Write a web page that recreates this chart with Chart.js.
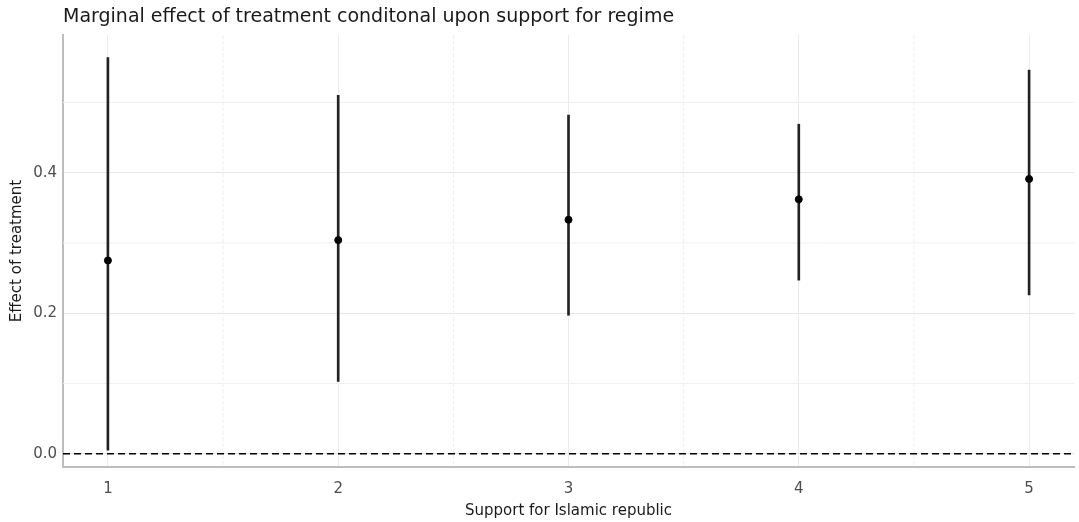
<!DOCTYPE html>
<html>
<head>
<meta charset="utf-8">
<script src="https://cdn.jsdelivr.net/npm/chart.js@4/dist/chart.umd.min.js"></script>
<style>
  html, body { margin: 0; padding: 0; background: #fff; }
  #wrap { width: 1079px; height: 522px; }
</style>
</head>
<body>
<div id="wrap"><canvas id="myChart"></canvas></div>
<script>
// support levels and estimated marginal effects
const support = [1, 2, 3, 4, 5];
const effect = [0.275, 0.304, 0.333, 0.362, 0.391];
const lower = [0.005, 0.103, 0.197, 0.247, 0.226];
const upper = [0.564, 0.510, 0.482, 0.469, 0.546];
const yTicks = [0, 0.2, 0.4];

const titleText = "Marginal effect of treatment conditonal upon support for regime";
const fontFamily = "'DejaVu Sans', sans-serif";

// draws the title above the panel, lined up with the plot's left edge
const titlePlugin = {
	id: "leftTitle",
	afterDraw(chart) {
		const ctx = chart.ctx;
		ctx.save();
		ctx.font = "19px " + fontFamily;
		ctx.fillStyle = "#1a1a1a";
		ctx.textBaseline = "alphabetic";
		ctx.fillText(titleText, chart.chartArea.left, 22);
		ctx.restore();
	}
};

// minor grid lines half way between the major ones, like ggplot
const minorGrid = {
	id: "minorGrid",
	beforeDatasetsDraw(chart) {
		const { ctx, chartArea, scales } = chart;
		ctx.save();
		ctx.strokeStyle = "#efefef";
		ctx.lineWidth = 1;
		for (let i = 0; i < yTicks.length; i++) {
			const py = scales.y.getPixelForValue(yTicks[i] + 0.1);
			ctx.beginPath();
			ctx.moveTo(chartArea.left, py);
			ctx.lineTo(chartArea.right, py);
			ctx.stroke();
		}
		ctx.setLineDash([4, 2]);
		for (let i = 0; i < support.length - 1; i++) {
			const px = scales.x.getPixelForValue(support[i] + 0.5);
			ctx.beginPath();
			ctx.moveTo(px, chartArea.top);
			ctx.lineTo(px, chartArea.bottom);
			ctx.stroke();
		}
		ctx.restore();
	}
};

const xMin = 0.805, xMax = 5.195;

new Chart("myChart", {
	data: {
		datasets: [
			{
				type: "line",
				data: [{ x: xMin, y: 0 }, { x: xMax, y: 0 }],
				borderColor: "#000",
				borderWidth: 1.5,
				borderDash: [7, 4],
				pointRadius: 0,
				order: 3
			},
			{
				type: "bar",
				data: support.map((s, i) => ({ x: s, y: [lower[i], upper[i]] })),
				backgroundColor: "#222",
				borderWidth: 0,
				barThickness: 2,
				grouped: false,
				order: 2
			},
			{
				type: "scatter",
				data: support.map((s, i) => ({ x: s, y: effect[i] })),
				backgroundColor: "#000",
				borderColor: "#000",
				pointRadius: 3.5,
				order: 1
			}
		]
	},
	options: {
		responsive: true,
		maintainAspectRatio: false,
		animation: false,
		layout: { padding: { top: 35, right: 4, left: 4, bottom: 2 } },
		plugins: {
			legend: { display: false },
			tooltip: { enabled: false }
		},
		scales: {
			x: {
				type: "linear",
				offset: false,
				min: xMin,
				max: xMax,
				afterBuildTicks: (axis) => { axis.ticks = support.map(v => ({ value: v })); },
				afterFit: (axis) => { axis.height = 53; },
				ticks: {
					font: { family: fontFamily, size: 15 },
					color: "#4d4d4d",
					padding: 13
				},
				grid: {
					offset: false,
					color: "#ebebeb",
					lineWidth: 1,
					drawTicks: false
				},
				border: { display: true, color: "#bdbdbd", width: 2 },
				title: {
					display: true,
					text: "Support for Islamic republic",
					font: { family: fontFamily, size: 15 },
					color: "#1a1a1a",
					padding: { top: 0, bottom: 0 }
				}
			},
			y: {
				type: "linear",
				min: -0.019,
				max: 0.596,
				afterBuildTicks: (axis) => { axis.ticks = yTicks.map(v => ({ value: v })); },
				afterFit: (axis) => { axis.width = 59; },
				ticks: {
					font: { family: fontFamily, size: 15 },
					color: "#4d4d4d",
					padding: 6,
					callback: (v) => v.toFixed(1)
				},
				grid: {
					color: "#e6e6e6",
					lineWidth: 1,
					drawTicks: false
				},
				border: { display: true, color: "#bdbdbd", width: 2 },
				title: {
					display: true,
					text: "Effect of treatment",
					font: { family: fontFamily, size: 15 },
					color: "#1a1a1a",
					padding: { top: 4, bottom: 0 }
				}
			}
		}
	},
	plugins: [titlePlugin, minorGrid]
});
</script>
</body>
</html>
